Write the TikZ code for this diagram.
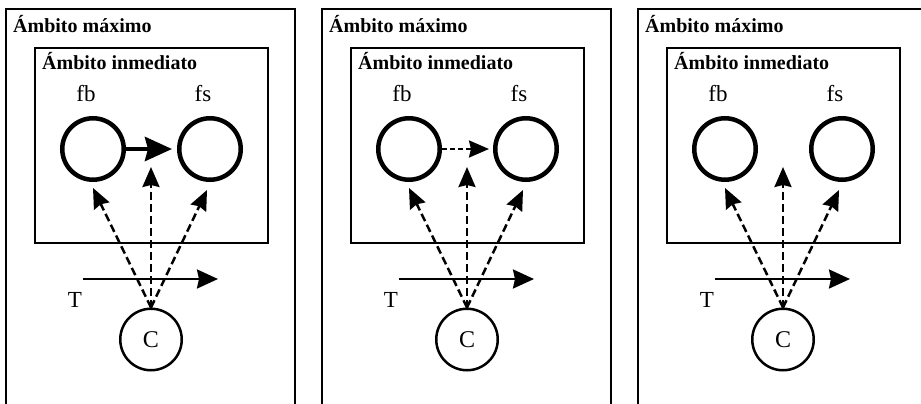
\documentclass[tikz,border=0pt]{standalone}
\usepackage{fontspec}
\setmainfont{Liberation Serif}
\usetikzlibrary{positioning, calc, arrows.meta}
\tikzset{marco/.style={draw, line width=2.8pt}}
\tikzset{titulo/.style={anchor=base west, inner sep=0pt, font=\bfseries\fontsize{20}{24}\selectfont}}
\tikzset{etiq/.style={anchor=base, inner sep=0pt, font=\fontsize{23}{27}\selectfont}}
\tikzset{foco/.style={circle, draw, line width=4.5pt, minimum size=61.5pt, inner sep=0pt}}
\tikzset{causa/.style={circle, draw, line width=2.5pt, minimum size=61.5pt, inner sep=0pt, font=\fontsize{24}{28}\selectfont}}
\tikzset{arrs/.style={draw, -{Stealth[length=27pt, width=24pt, inset=3pt]}, line width=4.5pt, shorten >=5pt}}
\tikzset{arrd/.style={draw, -{Stealth[length=20pt, width=17pt, inset=2pt]}, line width=2.5pt, dash pattern=on 8pt off 4pt}}
\tikzset{arrt/.style={draw, -{Stealth[length=21pt, width=19pt, inset=2pt]}, line width=2.5pt}}
\begin{document}
\begin{tikzpicture}[x=1pt, y=-1pt]
	\path[use as bounding box, clip] (0,0) rectangle (921,404);
	\foreach \i in {0,1,2}{
	\begin{scope}[xshift=\i*316pt]
		% frames
		\draw[marco] (6,9) rectangle (295,440);
		\draw[marco] (35,48) rectangle (268,243);
		\node[titulo] (max\i) at (13,33) {Ámbito máximo};
		\node[titulo] (inm\i) at (42,70) {Ámbito inmediato};
		% foci
		\node[foco] (fb\i) at (93,149) {};
		\node[foco] (fs\i) at (210,149) {};
		\node[etiq] (lfb\i) at (86,101) {fb};
		\node[etiq] (lfs\i) at (203,101) {fs};
		% context and time
		\node[causa] (C\i) at (151,339.5) {C};
		\coordinate (t0\i) at (83,279);
		\coordinate (t1\i) at (218,279);
		\draw[arrt] (t0\i) -- (t1\i);
		\node[etiq] (T\i) at (75,307) {T};
		\coordinate (mid\i) at (151,167);
		\draw[arrd] (C\i.north) -- ([yshift=-6pt]fb\i.south);
		\draw[arrd] (C\i.north) -- (mid\i);
		\draw[arrd] (C\i.north) -- ([xshift=-3pt, yshift=-8pt]fs\i.south);
	\end{scope}
	}
	\draw[arrs] (fb0) -- (fs0);
	\draw[arrd, dash pattern=on 5pt off 3pt, shorten >=4pt] (fb1) -- (fs1);
\end{tikzpicture}
\end{document}
